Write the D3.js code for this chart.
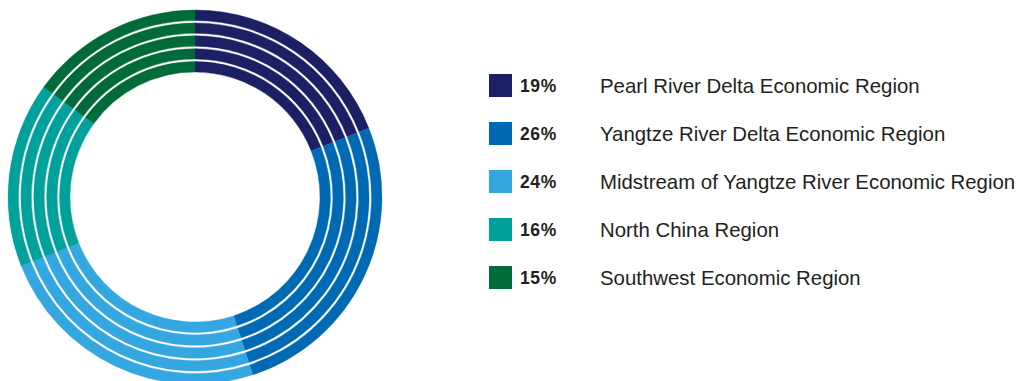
<!DOCTYPE html>
<html>
<head>
<meta charset="utf-8">
<script src="https://cdn.jsdelivr.net/npm/d3@7"></script>
<style>
  html, body { margin: 0; padding: 0; background: #fff; }
  svg { display: block; }
</style>
</head>
<body>
<svg id="chart" width="1021" height="381"></svg>
<script>
const categories = [
  "Pearl River Delta Economic Region",
  "Yangtze River Delta Economic Region",
  "Midstream of Yangtze River Economic Region",
  "North China Region",
  "Southwest Economic Region"
];
const values = [19, 26, 24, 16, 15];
const percentLabels = ["19%", "26%", "24%", "16%", "15%"];
const colors = ["#1b1f63", "#0069b4", "#34a7e0", "#00a19a", "#006a38"];
const ringCount = 5;

const svg = d3.select("#chart");
const cx = 195, cy = 197;
const outerR = 187, innerR = 125, gap = 2.4;
const bandW = (outerR - innerR - gap * (ringCount - 1)) / ringCount;

const pie = d3.pie().sort(null).value(d => d)(values);
const g = svg.append("g").attr("transform", `translate(${cx},${cy})`);

d3.range(ringCount).forEach(i => {
  const r0 = innerR + i * (bandW + gap);
  const arc = d3.arc().innerRadius(r0).outerRadius(r0 + bandW);
  g.append("g").selectAll("path")
    .data(pie)
    .join("path")
    .attr("d", arc)
    .attr("fill", (d, j) => colors[j])
    .attr("stroke", (d, j) => colors[j])
    .attr("stroke-width", 0.4);
});

const y = d3.scaleBand().domain(categories).range([74, 314]).paddingInner(0);
const legend = svg.append("g");
const rows = legend.selectAll("g").data(categories).join("g")
  .attr("transform", d => `translate(0,${y(d)})`);
rows.append("rect")
  .attr("x", 489).attr("y", 0).attr("width", 23).attr("height", 23)
  .attr("fill", (d, i) => colors[i]);
rows.append("text")
  .attr("x", 520).attr("y", 18)
  .attr("font-family", "Liberation Sans, Arial, sans-serif")
  .attr("font-weight", "bold")
  .attr("font-size", 17.5)
  .attr("letter-spacing", 0.6)
  .attr("fill", "#231f20")
  .text((d, i) => percentLabels[i]);
rows.append("text")
  .attr("x", 600).attr("y", 19)
  .attr("font-family", "Liberation Sans, Arial, sans-serif")
  .attr("font-size", 20.4)
  .attr("fill", "#231f20")
  .text(d => d);
</script>
</body>
</html>
